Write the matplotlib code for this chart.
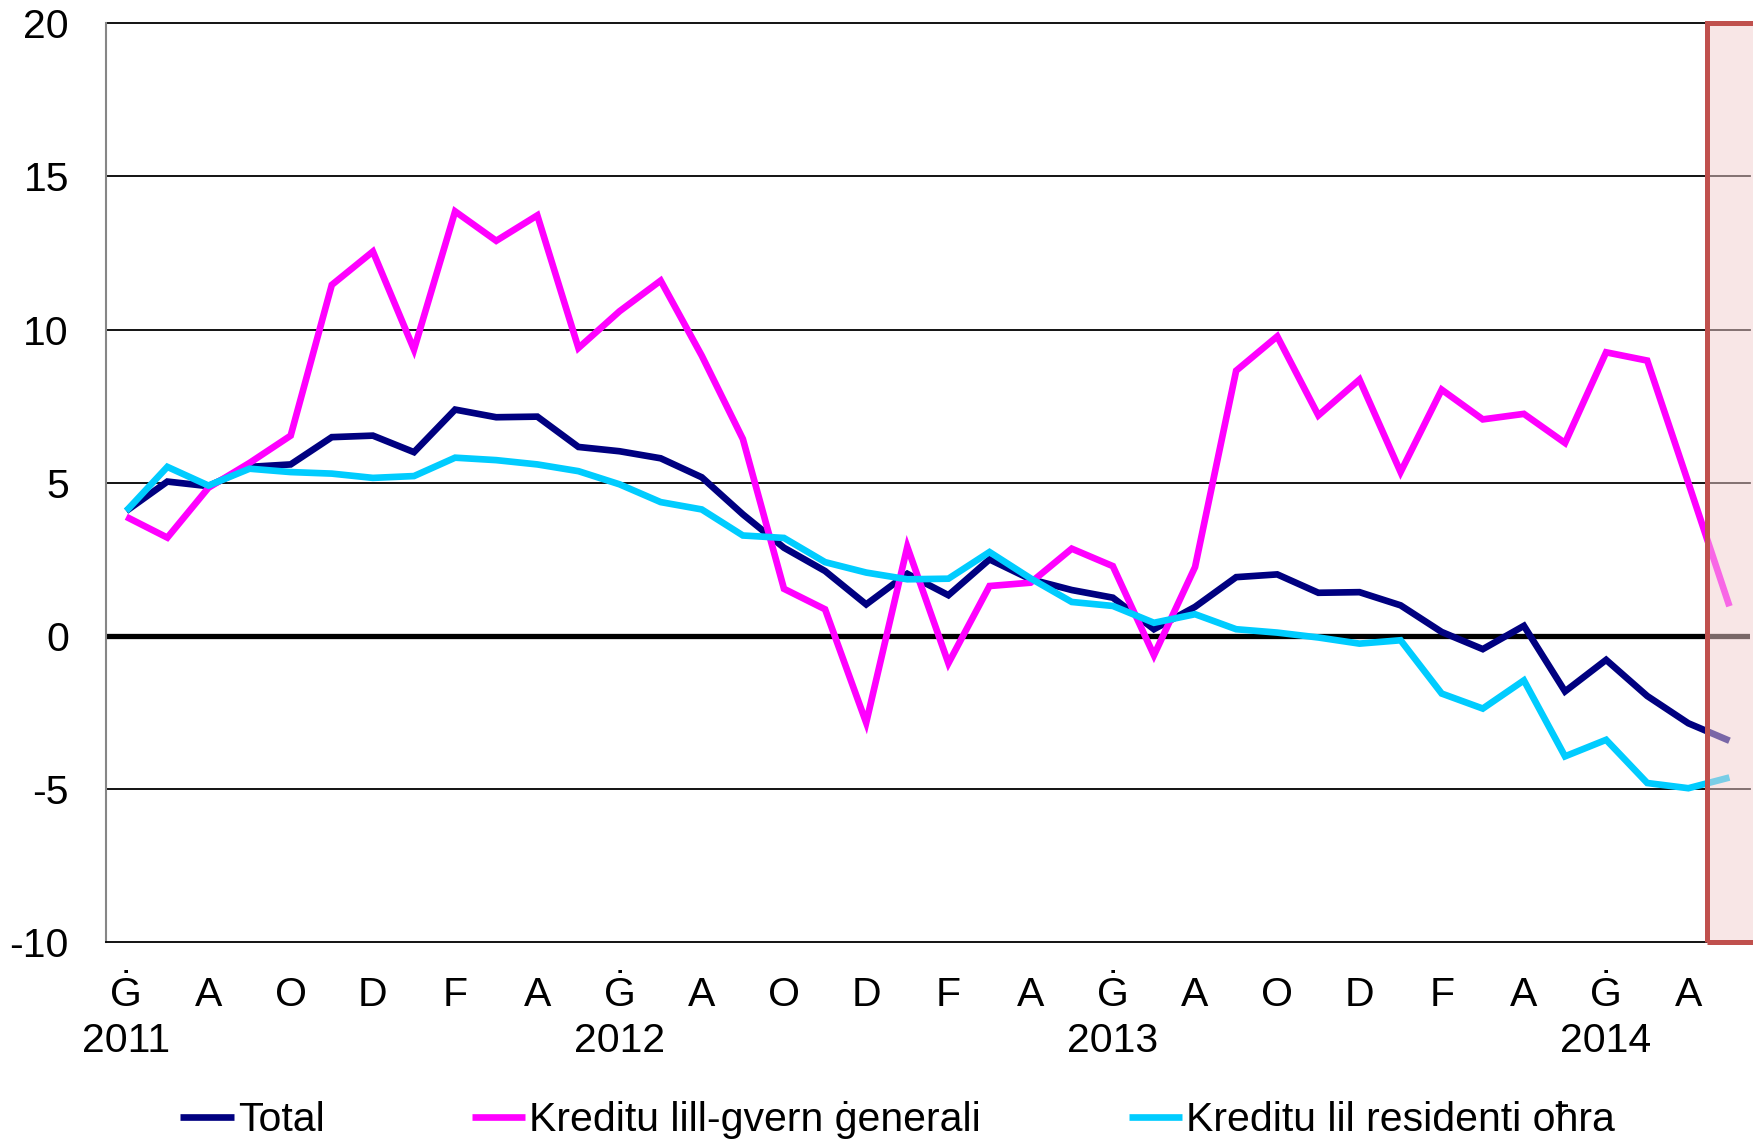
import matplotlib
matplotlib.use("Agg")
import matplotlib.pyplot as plt
import matplotlib.transforms as mtransforms
from matplotlib.patches import Rectangle

plt.rcParams['font.family'] = ['Liberation Sans', 'DejaVu Sans']

month_labels = ['Ġ', 'A', 'O', 'D', 'F', 'A', 'Ġ', 'A', 'O', 'D', 'F', 'A',
                'Ġ', 'A', 'O', 'D', 'F', 'A', 'Ġ', 'A']
year_labels = ['2011', '2012', '2013', '2014']
year_positions = [0, 12, 24, 36]

total = [4.08, 5.04, 4.89, 5.52, 5.60, 6.49, 6.54, 6.00, 7.39, 7.14,
         7.16, 6.17, 6.03, 5.80, 5.18, 3.97, 2.88, 2.12, 1.03, 2.03,
         1.33, 2.50, 1.85, 1.50, 1.25, 0.22, 0.95, 1.92, 2.01, 1.41,
         1.43, 1.00, 0.13, -0.43, 0.33, -1.81, -0.78, -1.96, -2.85, -3.42]
government = [3.89, 3.21, 4.84, 5.65, 6.54, 11.46, 12.55, 9.35, 13.86, 12.90,
              13.73, 9.40, 10.60, 11.60, 9.15, 6.43, 1.54, 0.87, -2.83, 2.91,
              -0.89, 1.63, 1.74, 2.85, 2.28, -0.63, 2.25, 8.66, 9.78, 7.20,
              8.37, 5.35, 8.04, 7.07, 7.25, 6.30, 9.26, 8.99, 5.00, 0.97]
other_residents = [4.08, 5.52, 4.91, 5.46, 5.35, 5.30, 5.16, 5.22, 5.82, 5.74,
                   5.60, 5.38, 4.95, 4.37, 4.13, 3.28, 3.20, 2.41, 2.07, 1.85,
                   1.87, 2.74, 1.88, 1.11, 0.98, 0.43, 0.71, 0.22, 0.11, -0.05,
                   -0.25, -0.14, -1.88, -2.37, -1.45, -3.93, -3.39, -4.80, -4.97, -4.62]

series_names = ['Total', 'Kreditu lill-gvern ġenerali', 'Kreditu lil residenti oħra']
series_colors = ['#000080', '#FF00FF', '#00CCFF']

W, H = 1753, 1143
fig = plt.figure(figsize=(W / 100, H / 100), dpi=100)
ax = fig.add_axes([105.7 / W, 1 - 942.3 / H, (1750 - 105.7) / W, (942.3 - 23.3) / H])

n = len(total)
x = list(range(n))

FS = 29.5

# gridlines
for v in [-5, 5, 10, 15, 20]:
    ax.axhline(v, color='black', lw=1.3, zorder=1, clip_on=False)
ax.axhline(0, color='black', lw=3.8, zorder=1)

for data, name, col in zip([total, government, other_residents], series_names, series_colors):
    ax.plot(x, data, color=col, lw=4.8, label=name, zorder=3,
            solid_joinstyle='miter', solid_capstyle='butt')

ax.set_xlim(-0.5, n - 0.5)
ax.set_ylim(-10, 20)
ax.set_yticks(range(-10, 21, 5))
ax.set_yticklabels([str(v) for v in range(-10, 21, 5)])
ax.set_xticks(range(0, n, 2))
ax.set_xticklabels(month_labels)
ax.tick_params(axis='both', length=0, labelsize=FS)
ax.tick_params(axis='y', pad=26.5)
ax.tick_params(axis='x', pad=24)

for s in ['top', 'right']:
    ax.spines[s].set_visible(False)
ax.spines['left'].set_color('#868686')
ax.spines['left'].set_linewidth(1.5)
ax.spines['bottom'].set_color('black')
ax.spines['bottom'].set_linewidth(1.3)

trans = mtransforms.blended_transform_factory(ax.transData, fig.transFigure)
for pos, lab in zip(year_positions, year_labels):
    ax.text(pos, 1 - 1041 / H, lab, transform=trans, ha='center', va='center', fontsize=FS)

# highlighted last period
rect_fill = Rectangle((38.45, -10), 1.2, 30, facecolor='#F3CFCF', alpha=0.5,
                      edgecolor='none', zorder=4, clip_on=False)
ax.add_patch(rect_fill)
rect_edge = Rectangle((38.45, -10), 1.2, 30, facecolor='none',
                      edgecolor='#C0504D', lw=3.6, zorder=5, clip_on=False)
ax.add_patch(rect_edge)

fig.legend(loc='center', bbox_to_anchor=(0.512, 1 - 1120 / H), ncol=3, frameon=False,
           fontsize=FS, handlelength=1.3, handletextpad=0.1, columnspacing=3.6)

fig.savefig('out.png', dpi=100)
